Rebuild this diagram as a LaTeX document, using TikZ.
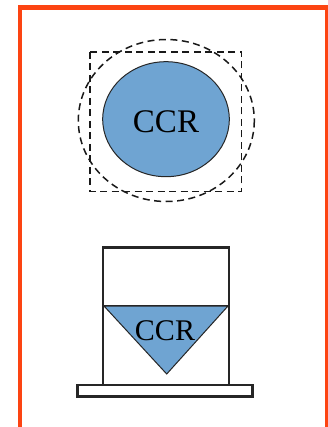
\documentclass[tikz,border=0pt]{standalone}
\usepackage{fontspec}
\setmainfont{Liberation Serif}
\usetikzlibrary{shapes.geometric}
\definecolor{frameorange}{RGB}{252,68,18}
\definecolor{ccrblue}{RGB}{111,164,210}
\begin{document}
\begin{tikzpicture}[x=1pt,y=-1pt,
  outline/.style={draw=black!85,line width=2.2pt},
  dashline/.style={draw=black!90,line width=1.5pt,dash pattern=on 7pt off 4.5pt},
  ccrfill/.style={fill=ccrblue,draw=black!85,line width=1pt},
  ccrtext/.style={font=\fontsize{33}{33}\selectfont,inner sep=0pt}]
\useasboundingbox (0,0) rectangle (328,427);
% frame
\draw[frameorange,line width=4.6pt] (20,7.5) rectangle (327.3,429.5);
% top figure
\draw[dashline] (90,52) rectangle (241.5,191.5);
\draw[dashline] (166.3,120.5) ellipse [x radius=88, y radius=81];
\draw[ccrfill] (166,119.2) ellipse [x radius=63.3, y radius=57.5];
\node[ccrtext] (ccrtop) at (166,122) {CCR};
% bottom figure
\draw[outline] (103,247.5) rectangle (229,385);
\draw[outline] (103,306) -- (229,306);
\draw[ccrfill] (104,306) -- (228,306) -- (166.7,374) -- cycle;
\node[ccrtext,font=\fontsize{30}{30}\selectfont] (ccrbot) at (165,330.5) {CCR};
\draw[outline] (77.5,385) rectangle (252.5,396.5);
\end{tikzpicture}
\end{document}
